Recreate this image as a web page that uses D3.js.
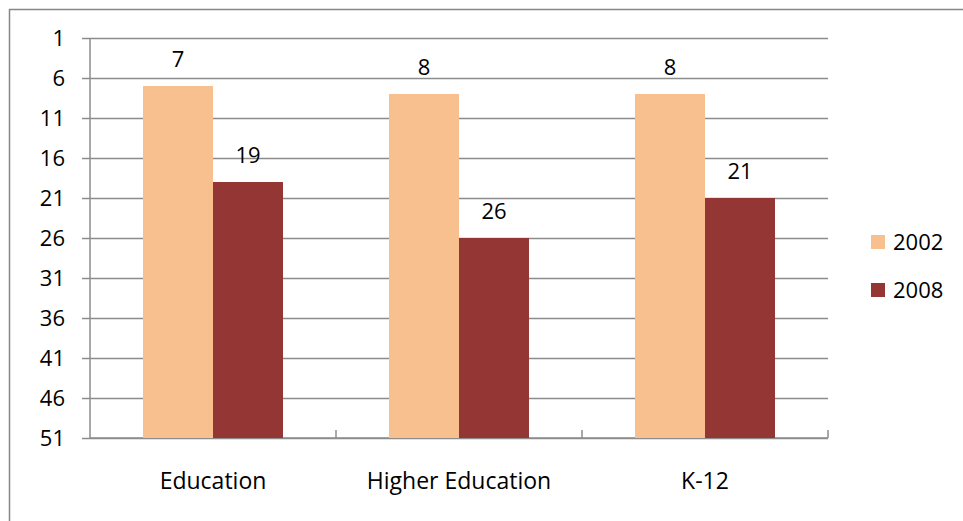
<!DOCTYPE html>
<html>

<head>
    <title>Bars</title>
    <script src="https://cdn.jsdelivr.net/npm/d3@7"></script>
    <style>
        body { margin: 0; background: #fff; }
        text { font-family: "Open Sans", sans-serif; fill: #000; }
    </style>
</head>

<body>
    <svg width="963" height="521" id="mainsvg"></svg>
    <script>
        const categories = ['Education', 'Higher Education', 'K-12'];
        const seriesNames = ['2002', '2008'];
        const values2002 = [7, 8, 8];
        const values2008 = [19, 26, 21];
        const yTicks = [1, 6, 11, 16, 21, 26, 31, 36, 41, 46, 51];
        const colors = ['#F9C08F', '#943634'];

        const svg = d3.select('#mainsvg');
        const margin = { top: 38, left: 90, right: 135, bottom: 83 };
        const width = +svg.attr('width');
        const height = +svg.attr('height');
        const innerWidth = width - margin.left - margin.right;
        const innerHeight = height - margin.top - margin.bottom;
        const fs = '22px';

        // outer chart frame (only top and left edges show in the picture)
        svg.append('path')
            .attr('d', `M9.5,${height} V9.5 H${width}`)
            .attr('fill', 'none')
            .attr('stroke', '#868686').attr('stroke-width', 1.5);

        const g = svg.append('g')
            .attr('transform', `translate(${margin.left}, ${margin.top})`);

        // axis reversed: 1 at the top, 51 at the bottom
        const yScale = d3.scaleLinear().domain([1, 51]).range([0, innerHeight]);
        const xScale = d3.scaleBand().domain(categories).range([0, innerWidth])
            .paddingInner(0.431).paddingOuter(0.2155);
        const xSub = d3.scaleBand().domain(seriesNames).range([0, xScale.bandwidth()]);

        // grid + y labels
        const yAxis = d3.axisLeft(yScale).tickValues(yTicks).tickSize(0).tickPadding(0);
        const yAxisGroup = g.append('g').call(yAxis);
        yAxisGroup.select('.domain').remove();
        yAxisGroup.selectAll('.tick line').attr('stroke', '#8c8c8c').attr('stroke-width', 1.5)
            .attr('x1', -8).attr('x2', innerWidth);
        yAxisGroup.selectAll('.tick text').attr('font-size', fs).attr('x', -25).attr('dy', '0.35em');

        // y axis line
        g.append('line').attr('x1', 0).attr('x2', 0).attr('y1', 0).attr('y2', innerHeight)
            .attr('stroke', '#8c8c8c').attr('stroke-width', 1.5);

        // x axis with inward ticks at band boundaries
        const xAxisGroup = g.append('g').attr('transform', `translate(0, ${innerHeight})`);
        xAxisGroup.append('line').attr('x1', 0).attr('x2', innerWidth)
            .attr('stroke', '#8c8c8c').attr('stroke-width', 1.5);
        xAxisGroup.selectAll('.xtick').data(d3.range(1, categories.length + 1)).enter()
            .append('line').attr('class', 'xtick')
            .attr('x1', d => d * xScale.step()).attr('x2', d => d * xScale.step())
            .attr('y1', 0).attr('y2', -8)
            .attr('stroke', '#8c8c8c').attr('stroke-width', 1.5);
        xAxisGroup.selectAll('.xlabel').data(categories).enter()
            .append('text').attr('class', 'xlabel')
            .attr('x', d => xScale(d) + xScale.bandwidth() / 2)
            .attr('y', 51)
            .attr('text-anchor', 'middle')
            .attr('font-size', '23px')
            .text(d => d);

        const rows = [];
        categories.forEach((c, i) => {
            rows.push({ cat: c, series: '2002', value: values2002[i], color: colors[0] });
            rows.push({ cat: c, series: '2008', value: values2008[i], color: colors[1] });
        });

        g.selectAll('.bar').data(rows).enter().append('rect')
            .attr('class', 'bar')
            .attr('x', d => xScale(d.cat) + xSub(d.series))
            .attr('width', xSub.bandwidth())
            .attr('y', d => yScale(d.value))
            .attr('height', d => innerHeight - yScale(d.value))
            .attr('fill', d => d.color);

        g.selectAll('.vlabel').data(rows).enter().append('text')
            .attr('class', 'vlabel')
            .attr('x', d => xScale(d.cat) + xSub(d.series) + xSub.bandwidth() / 2)
            .attr('y', d => yScale(d.value) - 19)
            .attr('text-anchor', 'middle')
            .attr('font-size', fs)
            .text(d => d.value);

        // legend
        const legend = svg.append('g').attr('transform', 'translate(871, 235)');
        const items = legend.selectAll('g').data(seriesNames).enter().append('g')
            .attr('transform', (d, i) => `translate(0, ${i * 48})`);
        items.append('rect').attr('width', 14).attr('height', 14)
            .attr('fill', (d, i) => colors[i]);
        items.append('text').attr('x', 22).attr('y', 7).attr('dy', '0.35em')
            .attr('font-size', fs).text(d => d);
    </script>
</body>

</html>
